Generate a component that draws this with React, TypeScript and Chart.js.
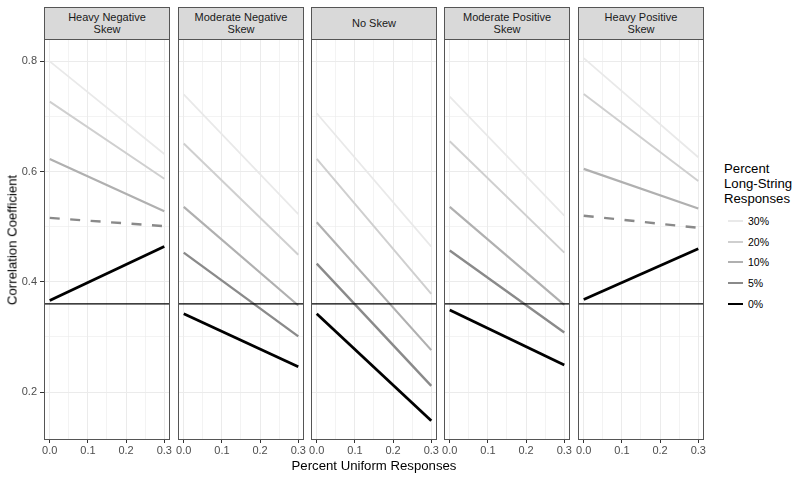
import React, { useEffect, useRef } from 'react';
import { Chart, registerables } from 'chart.js';

Chart.register(...registerables);

// ---------- data ----------
const stripLabels: string[][] = [
  ['Heavy Negative', 'Skew'],
  ['Moderate Negative', 'Skew'],
  ['No Skew'],
  ['Moderate Positive', 'Skew'],
  ['Heavy Positive', 'Skew'],
];
const seriesNames = ['30%', '20%', '10%', '5%', '0%'];
const xValues = [0, 0.3];

// each row: series (30%,20%,10%,5%,0%), values at x = 0 and x = 0.3
const heavyNegative = [
  [0.8, 0.632],
  [0.727, 0.587],
  [0.623, 0.528],
  [0.516, 0.501],
  [0.366, 0.464],
];
const moderateNegative = [
  [0.74, 0.523],
  [0.651, 0.449],
  [0.536, 0.357],
  [0.453, 0.301],
  [0.342, 0.246],
];
const noSkew = [
  [0.706, 0.464],
  [0.623, 0.378],
  [0.508, 0.276],
  [0.433, 0.211],
  [0.342, 0.148],
];
const moderatePositive = [
  [0.736, 0.52],
  [0.655, 0.453],
  [0.536, 0.358],
  [0.457, 0.308],
  [0.349, 0.249],
];
const heavyPositive = [
  [0.806, 0.626],
  [0.741, 0.583],
  [0.605, 0.533],
  [0.52, 0.498],
  [0.368, 0.46],
];
const panelSeries = [heavyNegative, moderateNegative, noSkew, moderatePositive, heavyPositive];
const dashedFivePercent = [true, false, false, false, true];
const referenceValue = 0.36;

const xTickValues = [0, 0.05, 0.1, 0.15, 0.2, 0.25, 0.3];
const xTickLabels = ['0.0', '', '0.1', '', '0.2', '', '0.3'];
const yTickValues = [0.2, 0.3, 0.4, 0.5, 0.6, 0.7, 0.8];
const yTickLabels = ['0.2', '', '0.4', '', '0.6', '', '0.8'];
const xMin = -0.015;
const xMax = 0.315;
const yMin = 0.1147;
const yMax = 0.8407;

// ---------- styles ----------
const seriesColors = ['#e9e9e9', '#cfcfcf', '#b0b0b0', '#8a8a8a', '#000000'];
const seriesWidths = [1.8, 2.0, 2.2, 2.4, 2.8];
const FONT = "'Liberation Sans', Arial, Helvetica, sans-serif";
const PANEL_LEFTS = [44, 178, 311, 444, 578];
const PANEL_W = 126;
const PANEL_TOP = 39;
const PANEL_H = 400;
const PAD_TOP = 12;
const X_AXIS_H = 20;

function Panel({ index }: { index: number }) {
  const ref = useRef<HTMLCanvasElement | null>(null);
  const first = index === 0;
  const yw = first ? 44 : 0;
  const padL = first ? 0 : 10;
  const padR = 10;
  const W = padL + yw + PANEL_W + padR;
  const H = PAD_TOP + PANEL_H + X_AXIS_H;
  const left = PANEL_LEFTS[index] - yw - padL;
  const top = PANEL_TOP - PAD_TOP;

  useEffect(() => {
    if (!ref.current) return;
    const values = panelSeries[index];
    const datasets: any[] = [
      {
        label: 'reference',
        data: [
          { x: xMin, y: referenceValue },
          { x: xMax, y: referenceValue },
        ],
        borderColor: '#000000',
        borderWidth: 1.1,
        pointRadius: 0,
        order: 0,
      },
      ...seriesNames.map((name, i) => ({
        label: name,
        data: xValues.map((x, j) => ({ x, y: values[i][j] })),
        borderColor: seriesColors[i],
        borderWidth: seriesWidths[i],
        borderDash: i === 3 && dashedFivePercent[index] ? [10, 10.5] : [],
        pointRadius: 0,
        order: 5 - i,
      })),
    ];
    const chart = new Chart(ref.current, {
      type: 'line',
      data: { datasets },
      options: {
        animation: false,
        responsive: false,
        devicePixelRatio: 1,
        layout: { padding: { left: padL, right: padR, top: PAD_TOP, bottom: 0 } },
        plugins: { legend: { display: false }, tooltip: { enabled: false } },
        scales: {
          x: {
            type: 'linear',
            min: xMin,
            max: xMax,
            afterBuildTicks: (s: any) => {
              s.ticks = xTickValues.map((v) => ({ value: v }));
            },
            afterFit: (s: any) => {
              s.height = X_AXIS_H;
            },
            ticks: {
              autoSkip: false,
              maxRotation: 0,
              padding: 1,
              color: '#4d4d4d',
              font: { family: FONT, size: 11 },
              callback: (_v: any, i: number) => xTickLabels[i] ?? '',
            },
            grid: {
              color: '#ebebeb',
              lineWidth: (c: any) => (c.index % 2 === 0 ? 1 : 0.6),
              drawTicks: true,
              tickLength: 4,
              tickWidth: 1,
              tickColor: (c: any) => (c.index % 2 === 0 ? '#333333' : 'rgba(0,0,0,0)'),
            },
            border: { display: false },
          },
          y: {
            type: 'linear',
            min: yMin,
            max: yMax,
            afterBuildTicks: (s: any) => {
              s.ticks = yTickValues.map((v) => ({ value: v }));
            },
            afterFit: (s: any) => {
              s.width = yw;
            },
            ticks: {
              display: first,
              autoSkip: false,
              padding: 3,
              color: '#4d4d4d',
              font: { family: FONT, size: 11 },
              callback: (_v: any, i: number) => yTickLabels[i] ?? '',
            },
            grid: {
              color: '#ebebeb',
              lineWidth: (c: any) => (c.index % 2 === 0 ? 1 : 0.6),
              drawTicks: first,
              tickLength: 4,
              tickWidth: 1,
              tickColor: (c: any) => (c.index % 2 === 0 ? '#333333' : 'rgba(0,0,0,0)'),
            },
            border: { display: false },
          },
        },
      } as any,
    });
    return () => chart.destroy();
  }, [index]);

  return (
    <>
      <canvas
        ref={ref}
        width={W}
        height={H}
        style={{ position: 'absolute', left, top, width: W, height: H }}
      />
      <div
        style={{
          position: 'absolute',
          left: PANEL_LEFTS[index],
          top: PANEL_TOP,
          width: PANEL_W,
          height: PANEL_H + 1,
          border: '1px solid #555555',
          boxSizing: 'border-box',
          pointerEvents: 'none',
        }}
      />
      <div
        style={{
          position: 'absolute',
          left: PANEL_LEFTS[index],
          top: 7,
          width: PANEL_W,
          height: 33,
          background: '#d9d9d9',
          border: '1px solid #555555',
          boxSizing: 'border-box',
          display: 'flex',
          flexDirection: 'column',
          alignItems: 'center',
          justifyContent: 'center',
          fontFamily: FONT,
          fontSize: 11,
          lineHeight: '11.5px',
          color: '#1a1a1a',
        }}
      >
        {stripLabels[index].map((t, k) => (
          <div key={k}>{t}</div>
        ))}
      </div>
    </>
  );
}

export default function App() {
  return (
    <div
      style={{
        position: 'fixed',
        left: 0,
        top: 0,
        width: 800,
        height: 480,
        background: '#ffffff',
        fontFamily: FONT,
        overflow: 'hidden',
      }}
    >
      {stripLabels.map((_, i) => (
        <Panel key={i} index={i} />
      ))}
      {/* y axis title */}
      <div
        style={{
          position: 'absolute',
          left: 12,
          top: 240,
          transform: 'translate(-50%, -50%) rotate(-90deg)',
          whiteSpace: 'nowrap',
          fontSize: 13.2,
          color: '#000',
        }}
      >
        Correlation Coefficient
      </div>
      {/* x axis title */}
      <div
        style={{
          position: 'absolute',
          left: 374,
          top: 465,
          transform: 'translate(-50%, -50%)',
          whiteSpace: 'nowrap',
          fontSize: 13.2,
          color: '#000',
        }}
      >
        Percent Uniform Responses
      </div>
      {/* legend */}
      <div
        style={{
          position: 'absolute',
          left: 724,
          top: 161,
          fontSize: 13.2,
          lineHeight: '15px',
          color: '#000',
        }}
      >
        <div>Percent</div>
        <div>Long-String</div>
        <div>Responses</div>
      </div>
      {seriesNames.map((name, k) => {
        const cy = 220.7 + 20.8 * k;
        return (
          <React.Fragment key={name}>
            <div
              style={{
                position: 'absolute',
                left: 728,
                top: cy - seriesWidths[k] / 2,
                width: 15,
                height: seriesWidths[k],
                background: seriesColors[k],
              }}
            />
            <div
              style={{
                position: 'absolute',
                left: 748,
                top: cy - 7,
                height: 14,
                lineHeight: '14px',
                fontSize: 10.5,
                color: '#000',
              }}
            >
              {name}
            </div>
          </React.Fragment>
        );
      })}
    </div>
  );
}
